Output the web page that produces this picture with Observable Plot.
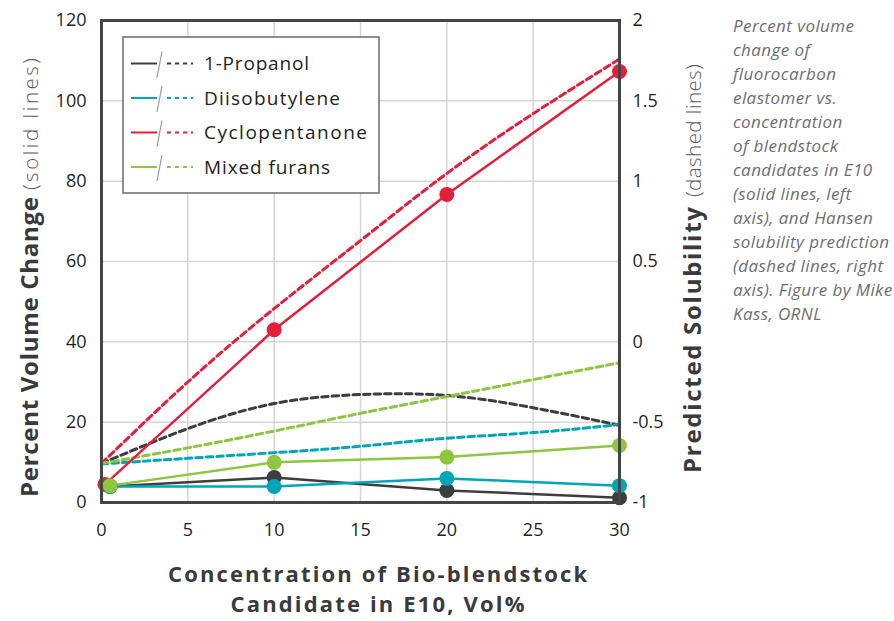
<!DOCTYPE html>
<html><head><meta charset="utf-8">
<script src="https://cdn.jsdelivr.net/npm/d3@7"></script>
<script src="https://cdn.jsdelivr.net/npm/@observablehq/plot@0.6"></script>
<style>
body{margin:0;background:#fff;font-family:"Open Sans",sans-serif;}
#wrap{position:relative;width:894px;height:621px;}
</style></head>
<body><div id="wrap"></div>
<script>
// Series (solid lines, left axis: percent volume change)
const seriesNames = ["1-Propanol","Diisobutylene","Cyclopentanone","Mixed furans"];
const seriesColors = ["#3d3d40","#00a5b8","#e2203a","#8dc63f"];
const solidX = {
  "1-Propanol":[0.5,10,20,30],
  "Diisobutylene":[0.5,10,20,30],
  "Cyclopentanone":[0.2,10,20,30],
  "Mixed furans":[0.5,10,20,30]
};
const propanolSolid = [4.0,6.2,3.0,1.2];
const diisobutyleneSolid = [4.0,4.0,6.0,4.2];
const cyclopentanoneSolid = [4.5,43.0,76.7,107.3];
const furansSolid = [4.2,10.0,11.3,14.2];
// Dashed lines, right axis: predicted solubility
const predX = [0,5,10,15,20,25,30];
const propanolPred = [-0.757,-0.54,-0.384,-0.328,-0.334,-0.41,-0.52];
const diisobutylenePred = [-0.76,-0.725,-0.69,-0.65,-0.60,-0.565,-0.515];
const cyclopentanonePred = [-0.757,-0.25,0.207,0.63,1.048,1.42,1.76];
const furansPred = [-0.757,-0.66,-0.555,-0.445,-0.34,-0.235,-0.13];
// Axis ticks
const xTicks = [0,5,10,15,20,25,30];
const leftTicks = [0,20,40,60,80,100,120];
const rightTicks = [-1,-0.5,0,0.5,1,1.5,2];
const xTitle = ["Concentration of Bio-blendstock","Candidate in E10, Vol%"];
const noteLines = ["Percent volume","change of","fluorocarbon","elastomer vs.","concentration","of blendstock","candidates in E10","(solid lines, left","axis), and Hansen","solubility prediction","(dashed lines, right","axis). Figure by Mike","Kass, ORNL"];

const solidVals = [propanolSolid,diisobutyleneSolid,cyclopentanoneSolid,furansSolid];
const predVals = [propanolPred,diisobutylenePred,cyclopentanonePred,furansPred];
// map right axis (-1..2) onto left axis (0..120)
const r2l = v => (v + 1) * 40;
const solid = [], pred = [];
seriesNames.forEach((s,i)=>{
  solidVals[i].forEach((v,j)=>solid.push({s, x: solidX[s][j], y: v}));
  predVals[i].forEach((v,j)=>pred.push({s, x: predX[j], y: r2l(v)}));
});
const color = {domain: seriesNames, range: seriesColors};
const font = '"Open Sans", sans-serif';

const chart = Plot.plot({
  width: 894, height: 621,
  marginLeft: 101, marginRight: 275, marginTop: 20, marginBottom: 119,
  style: {fontFamily: font, fontSize: "18px", color: "#231f20", background: "#fff"},
  x: {domain: [0,30]},
  y: {domain: [0,120]},
  color,
  marks: [
    Plot.gridX(xTicks, {stroke: "#d6d6d6", strokeOpacity: 1, strokeWidth: 1.5}),
    Plot.gridY(leftTicks, {stroke: "#d6d6d6", strokeOpacity: 1, strokeWidth: 1.5}),
    Plot.axisX(xTicks, {tickSize: 0, tickPadding: 21, label: null, fontSize: 18}),
    Plot.axisY(leftTicks, {tickSize: 0, tickPadding: 15, label: null, fontSize: 18}),
    Plot.axisY(rightTicks.map(r2l), {anchor: "right", tickSize: 0, tickPadding: 13, label: null, fontSize: 18,
      tickFormat: d => { const v = d/40 - 1; return v < 0 ? "-" + Math.abs(v) : String(v); }}),
    Plot.line(pred, {x: "x", y: "y", z: "s", stroke: "s", strokeWidth: 3, strokeDasharray: "6.5,4", curve: "natural"}),
    Plot.line(solid, {x: "x", y: "y", z: "s", stroke: "s", strokeWidth: 2.5}),
    Plot.dot(solid, {x: "x", y: "y", fill: "s", r: 7.5}),
    Plot.frame({stroke: "#454547", strokeWidth: 3})
  ]
});
document.getElementById("wrap").appendChild(chart);
const svg = d3.select(chart);

// stretch letter spacing so that a text reaches the reference width
function fit(sel, target) {
  const n = sel.node();
  const len = n.getComputedTextLength();
  const k = n.textContent.length;
  if (k > 1) sel.attr("letter-spacing", ((target - len) / (k - 1)).toFixed(2));
  return sel;
}

// Legend
const lg = svg.append("g");
lg.append("rect").attr("x",123).attr("y",37).attr("width",256).attr("height",156)
  .attr("fill","#fff").attr("stroke","#6a6a6a").attr("stroke-width",1.5);
const legendWidths = [105,136,163,126];
seriesNames.forEach((s,i)=>{
  const cy = 63.5 + i*34.5;
  lg.append("line").attr("x1",131).attr("x2",157).attr("y1",cy).attr("y2",cy)
    .attr("stroke",seriesColors[i]).attr("stroke-width",2);
  lg.append("line").attr("x1",157).attr("x2",162).attr("y1",cy+14).attr("y2",cy-12)
    .attr("stroke","#9a9a9a").attr("stroke-width",1.2);
  lg.append("line").attr("x1",167).attr("x2",193).attr("y1",cy).attr("y2",cy)
    .attr("stroke",seriesColors[i]).attr("stroke-width",2).attr("stroke-dasharray","4,4");
  const t = lg.append("text").attr("x",204).attr("y",cy).attr("dy","0.35em")
    .attr("text-anchor","start").attr("font-size",19).attr("fill","#231f20").text(s);
  fit(t, legendWidths[i]);
});

// Axis titles (rotated)
function vtitle(x, yStart, bold, light, wBold, wLight, yLight) {
  const b = svg.append("text").attr("transform",`translate(${x},${yStart}) rotate(-90)`)
    .attr("text-anchor","start").attr("font-weight","bold").attr("font-size",24)
    .attr("fill","#3a3a3c").text(bold);
  fit(b, wBold);
  const l = svg.append("text").attr("transform",`translate(${x},${yLight}) rotate(-90)`)
    .attr("text-anchor","start").attr("font-size",20.5).attr("font-weight",300)
    .attr("fill","#58595b").text(light);
  fit(l, wLight);
}
vtitle(38, 497, "Percent Volume Change", "(solid lines)", 300, 132, 190);
vtitle(701, 473, "Predicted Solubility", "(dashed lines)", 266, 133, 197);

const xw = [419, 294];
xTitle.forEach((t,i)=>{
  const e = svg.append("text").attr("x", 377.5 - xw[i]/2).attr("y",582 + i*30).attr("text-anchor","start")
    .attr("font-weight","bold").attr("font-size",22).attr("fill","#3a3a3c").text(t);
  fit(e, xw[i]);
});

// Side note
const ng = svg.append("g").attr("font-style","italic").attr("font-size",17).attr("fill","#6d6e71");
const noteEls = noteLines.map((t,i)=> ng.append("text").attr("x",733).attr("y",32 + i*24)
  .attr("text-anchor","start").text(t));
const probe = noteEls[9].node();
const ls = (156 - probe.getComputedTextLength()) / (noteLines[9].length - 1);
ng.attr("letter-spacing", ls.toFixed(2));
</script></body></html>
